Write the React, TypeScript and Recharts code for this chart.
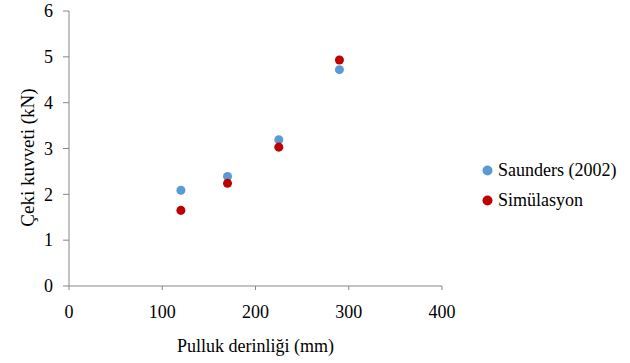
import React from 'react';
import { ScatterChart, Scatter, XAxis, YAxis, ZAxis, Legend, Label } from 'recharts';

const xTicks = [0, 100, 200, 300, 400];
const yTicks = [0, 1, 2, 3, 4, 5, 6];

const saundersDepth = [120, 170, 225, 290];
const saundersForce = [2.09, 2.39, 3.19, 4.72];

const simDepth = [120, 170, 225, 290];
const simForce = [1.65, 2.24, 3.03, 4.93];

const saundersData = saundersDepth.map((x, i) => ({ x, y: saundersForce[i] }));
const simData = simDepth.map((x, i) => ({ x, y: simForce[i] }));

const FONT = 'Liberation Serif';
const AXIS = '#868686';
const BLUE = '#5B9BD5';
const RED = '#C00000';

const XTick = (props: any) => {
  const { x, y, payload } = props;
  return (
    <text x={x} y={y} dy={12.5} textAnchor="middle" style={{ fontFamily: FONT, fontSize: 18 }} fill="#000">
      {payload.value}
    </text>
  );
};

const YTick = (props: any) => {
  const { x, y, payload } = props;
  return (
    <text x={x} y={y} dy={6.2} textAnchor="end" style={{ fontFamily: FONT, fontSize: 18 }} fill="#000">
      {payload.value}
    </text>
  );
};

const XTitle = (props: any) => {
  const vb = props.viewBox || {};
  return (
    <text x={vb.x + vb.width / 2} y={vb.y + vb.height} textAnchor="middle" style={{ fontFamily: FONT, fontSize: 18 }} fill="#000">
      Pulluk derinliği (mm)
    </text>
  );
};

const YTitle = (props: any) => {
  const vb = props.viewBox || {};
  const cx = vb.x + 27;
  const cy = vb.y + vb.height / 2 + 9;
  return (
    <text x={cx} y={cy} transform={`rotate(-90, ${cx}, ${cy})`} textAnchor="middle" dy="0.35em" style={{ fontFamily: FONT, fontSize: 19 }} fill="#000">
      Çeki kuvveti (kN)
    </text>
  );
};

const LegendContent = (props: any) => {
  const payload = props.payload || [];
  return (
    <div style={{ position: 'relative', width: 148, height: 60 }}>
      {payload.map((p: any, i: number) => (
        <div key={i} style={{ position: 'absolute', left: 0, top: i * 30, height: 24, display: 'flex', alignItems: 'center' }}>
          <svg width={11} height={11} style={{ marginRight: 5 }}>
            <circle cx={5.5} cy={5.5} r={5} fill={p.color} />
          </svg>
          <span style={{ fontFamily: FONT, fontSize: 18, color: '#000', whiteSpace: 'nowrap' }}>{p.value}</span>
        </div>
      ))}
    </div>
  );
};

export default function App() {
  return (
    <div style={{ position: 'absolute', left: 0, top: 0, width: 630, height: 363, background: '#fff', fontFamily: FONT }}>
      <ScatterChart width={630} height={363} margin={{ top: 11, right: 188, bottom: 11, left: 0 }}>
        <XAxis
          type="number"
          dataKey="x"
          domain={[0, 400]}
          ticks={xTicks}
          height={66}
          stroke={AXIS}
          tickSize={4}
          tickMargin={15}
          tick={<XTick />}
          tickLine={{ stroke: AXIS }}
        >
          <Label content={XTitle} />
        </XAxis>
        <YAxis
          type="number"
          dataKey="y"
          domain={[0, 6]}
          ticks={yTicks}
          width={69}
          stroke={AXIS}
          tickSize={6}
          tickMargin={10}
          tick={<YTick />}
          tickLine={{ stroke: AXIS }}
        >
          <Label content={YTitle} />
        </YAxis>
        <ZAxis range={[80, 80]} />
        <Legend
          layout="vertical"
          align="center"
          verticalAlign="middle"
          content={LegendContent}
          wrapperStyle={{ position: 'absolute', left: 482, top: 158, width: 148, height: 60 }}
        />
        <Scatter name="Saunders (2002)" data={saundersData} fill={BLUE} isAnimationActive={false} />
        <Scatter name="Simülasyon" data={simData} fill={RED} isAnimationActive={false} />
      </ScatterChart>
    </div>
  );
}
